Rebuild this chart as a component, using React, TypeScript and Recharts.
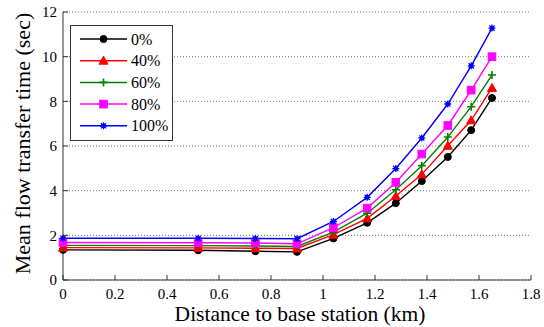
import { LineChart, Line, XAxis, YAxis, CartesianGrid, Legend } from 'recharts';

document.body.style.margin = '0';

const distances = [0, 0.52, 0.74, 0.9, 1.04, 1.17, 1.28, 1.38, 1.48, 1.57, 1.65];
const t0 = [1.35, 1.33, 1.29, 1.26, 1.86, 2.56, 3.44, 4.43, 5.51, 6.71, 8.15];
const t40 = [1.45, 1.44, 1.42, 1.41, 2.03, 2.76, 3.76, 4.73, 6.01, 7.15, 8.6];
const t60 = [1.55, 1.54, 1.52, 1.5, 2.14, 2.99, 4.04, 5.12, 6.4, 7.76, 9.18];
const t80 = [1.68, 1.67, 1.66, 1.62, 2.34, 3.22, 4.37, 5.64, 6.92, 8.5, 10.0];
const t100 = [1.87, 1.87, 1.86, 1.85, 2.62, 3.7, 4.99, 6.36, 7.88, 9.59, 11.28];

const xTicks = [0, 0.2, 0.4, 0.6, 0.8, 1, 1.2, 1.4, 1.6, 1.8];
const yTicks = [0, 2, 4, 6, 8, 10, 12];

const FONT = "'Liberation Serif', 'DejaVu Serif', Times, serif";

type Marker = 'circle' | 'triangle' | 'plus' | 'square' | 'star';

const series: { key: string; name: string; color: string; marker: Marker }[] = [
  { key: 't0', name: '0%', color: '#000000', marker: 'circle' },
  { key: 't40', name: '40%', color: '#ff0000', marker: 'triangle' },
  { key: 't60', name: '60%', color: '#008000', marker: 'plus' },
  { key: 't80', name: '80%', color: '#ff00ff', marker: 'square' },
  { key: 't100', name: '100%', color: '#0000ff', marker: 'star' },
];

const data = distances.map((d, i) => ({
  d,
  t0: t0[i],
  t40: t40[i],
  t60: t60[i],
  t80: t80[i],
  t100: t100[i],
}));

function drawMarker(marker: Marker, cx: number, cy: number, color: string, key?: string | number) {
  switch (marker) {
    case 'circle':
      return <circle key={key} cx={cx} cy={cy} r={3.5} fill={color} stroke={color} />;
    case 'triangle':
      return (
        <polygon
          key={key}
          points={`${cx},${cy - 4.5} ${cx - 4.5},${cy + 3.5} ${cx + 4.5},${cy + 3.5}`}
          fill={color}
          stroke={color}
        />
      );
    case 'plus':
      return (
        <path
          key={key}
          d={`M${cx - 4},${cy}H${cx + 4}M${cx},${cy - 4}V${cy + 4}`}
          stroke={color}
          strokeWidth={1.6}
          fill="none"
        />
      );
    case 'square':
      return <rect key={key} x={cx - 3.8} y={cy - 3.8} width={7.6} height={7.6} fill={color} stroke={color} />;
    default:
      return (
        <g key={key}>
          <path
            d={`M${cx - 3.5},${cy}H${cx + 3.5}M${cx},${cy - 3.5}V${cy + 3.5}M${cx - 2.6},${cy - 2.6}L${cx + 2.6},${cy + 2.6}M${cx - 2.6},${cy + 2.6}L${cx + 2.6},${cy - 2.6}`}
            stroke={color}
            strokeWidth={1.3}
          />
          <circle cx={cx} cy={cy} r={2.2} fill={color} />
        </g>
      );
  }
}

function LegendBox() {
  return (
    <svg width={103} height={116} style={{ display: 'block' }}>
      <rect x={0.5} y={0.5} width={102} height={115} fill="#ffffff" stroke="#333" strokeWidth={1} />
      {series.map((s, i) => {
        const y = 14 + i * 21.7;
        return (
          <g key={s.key}>
            <line x1={10} y1={y} x2={57} y2={y} stroke={s.color} strokeWidth={1.5} />
            {drawMarker(s.marker, 33.5, y, s.color)}
            <text x={61} y={y + 5.5} fontSize={16} fontFamily={FONT} fill="#000">
              {s.name}
            </text>
          </g>
        );
      })}
    </svg>
  );
}

export default function App() {
  return (
    <div style={{ fontFamily: FONT }}>
      <LineChart
        width={544}
        height={327}
        data={data}
        margin={{ top: 12, right: 13, bottom: 0, left: 0 }}
        style={{ fontFamily: FONT, background: '#fff' }}
      >
        <CartesianGrid horizontal vertical={false} stroke="#777" strokeDasharray="1 2" />
        <XAxis
          dataKey="d"
          type="number"
          domain={[0, 1.8]}
          ticks={xTicks}
          height={47}
          stroke="#333"
          tickSize={-5}
          tickMargin={13}
          tick={{ fill: '#000', fontSize: 15, fontFamily: FONT }}
          tickFormatter={(v) => String(v)}
          label={{ value: 'Distance to base station (km)', position: 'insideBottom', offset: 6, dx: 3, fill: '#000', fontSize: 21.5, fontFamily: FONT }}
        />
        <XAxis xAxisId="top" dataKey="d" type="number" orientation="top" domain={[0, 1.8]} ticks={xTicks} height={0} stroke="#333" tickSize={-5} tick={false} />
        <YAxis
          type="number"
          domain={[0, 12]}
          ticks={yTicks}
          width={63}
          stroke="#333"
          tickSize={-5}
          tickMargin={11}
          tick={{ fill: '#000', fontSize: 15, fontFamily: FONT }}
          label={{ value: 'Mean flow transfer time (sec)', angle: -90, position: 'center', dx: -9.5, dy: -2.5, fill: '#000', fontSize: 22, fontFamily: FONT }}
        />
        <YAxis yAxisId="right" type="number" orientation="right" domain={[0, 12]} ticks={yTicks} width={0} stroke="#333" tickSize={-5} tick={false} />
        {series.map((s) => (
          <Line
            key={s.key}
            dataKey={s.key}
            name={s.name}
            type="linear"
            stroke={s.color}
            strokeWidth={1.4}
            isAnimationActive={false}
            dot={(p: any) => drawMarker(s.marker, p.cx, p.cy, s.color, p.key ?? `${s.key}-${p.index}`)}
            activeDot={false}
          />
        ))}
        <Legend
          verticalAlign="middle"
          align="center"
          layout="horizontal"
          content={() => <LegendBox />}
          wrapperStyle={{ left: 70, top: 25, width: 103, height: 116 }}
        />
      </LineChart>
    </div>
  );
}
